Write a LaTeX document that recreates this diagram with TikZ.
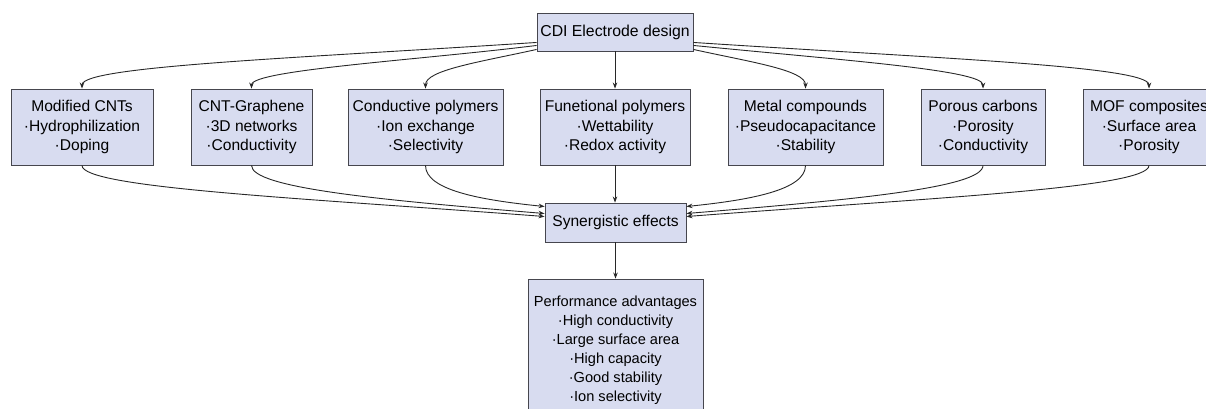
\documentclass[tikz,border=0pt]{standalone}
\usepackage{fontspec}
\setmainfont{Liberation Sans}
\usetikzlibrary{arrows.meta}
\definecolor{boxfill}{RGB}{216,220,240}
\definecolor{boxdraw}{RGB}{70,70,78}
\definecolor{edgecol}{RGB}{40,40,40}
\tikzset{
  box/.style={draw=boxdraw, fill=boxfill, line width=0.9pt, inner sep=0pt, align=center,
    font=\fontsize{15.6}{19.5}\selectfont},
  rowbox/.style={box, minimum height=76pt},
  edge/.style={draw=edgecol, line width=0.9pt, -{Stealth[length=6pt,width=4.5pt]}},
}
\begin{document}
\begin{tikzpicture}[x=1pt,y=-1pt]
\useasboundingbox (0,0) rectangle (1206,408);
\node[box, minimum width=156pt, minimum height=38pt, font=\fontsize{15.8}{19.5}\selectfont] (top) at (615,32) {CDI Electrode design};
\node[rowbox, minimum width=142pt] (m1) at (82,127) {Modified CNTs\\·Hydrophilization\\·Doping};
\node[rowbox, minimum width=121pt] (m2) at (251.5,127) {CNT-Graphene\\·3D networks\\·Conductivity};
\node[rowbox, minimum width=155pt] (m3) at (425.5,127) {Conductive polymers\\·Ion exchange\\·Selectivity};
\node[rowbox, minimum width=150pt] (m4) at (615,127) {Funetional polymers\\·Wettability\\·Redox activity};
\node[rowbox, minimum width=155pt] (m5) at (805.5,127) {Metal compounds\\·Pseudocapacitance\\·Stability};
\node[rowbox, minimum width=124pt] (m6) at (983,127) {Porous carbons\\·Porosity\\·Conductivity};
\node[rowbox, minimum width=132pt] (m7) at (1149,127) {MOF composites\\·Surface area\\·Porosity};
\node[box, minimum width=141pt, minimum height=39pt] (syn) at (615.5,222.5) {Synergistic effects};
\node[box, minimum width=175pt, minimum height=142pt, font=\fontsize{14.6}{19}\selectfont] (perf) at (615.5,350) {Performance advantages\\·High conductivity\\·Large surface area\\·High capacity\\·Good stability\\·Ion selectivity};
% top to row
\draw[edge] ([yshift=9pt]top.south west) .. controls (300,58) and (82,66) .. (m1.north);
\draw[edge] ([yshift=6pt]top.south west) .. controls (420,60) and (251.5,70) .. (m2.north);
\draw[edge] ([yshift=2pt]top.south west) .. controls (480,62) and (425.5,70) .. (m3.north);
\draw[edge] (top.south) -- (m4.north);
\draw[edge] ([yshift=2pt]top.south east) .. controls (750,62) and (805.5,70) .. (m5.north);
\draw[edge] ([yshift=6pt]top.south east) .. controls (840,60) and (983,70) .. (m6.north);
\draw[edge] ([yshift=9pt]top.south east) .. controls (930,58) and (1149,66) .. (m7.north);
% row to synergy
\draw[edge] (m1.south) .. controls (82,188) and (300,198) .. ([yshift=6pt]syn.west);
\draw[edge] (m2.south) .. controls (251.5,188) and (380,200) .. ([yshift=9pt]syn.west);
\draw[edge] (m3.south) .. controls (425.5,190) and (480,200) .. ([yshift=16pt]syn.west);
\draw[edge] (m4.south) -- (syn.north-|m4.south);
\draw[edge] (m5.south) .. controls (805.5,190) and (750,200) .. ([yshift=16pt]syn.east);
\draw[edge] (m6.south) .. controls (983,188) and (850,200) .. ([yshift=9pt]syn.east);
\draw[edge] (m7.south) .. controls (1149,188) and (930,198) .. ([yshift=6pt]syn.east);
\draw[edge] (syn.south) -- (perf.north);
\end{tikzpicture}
\end{document}
